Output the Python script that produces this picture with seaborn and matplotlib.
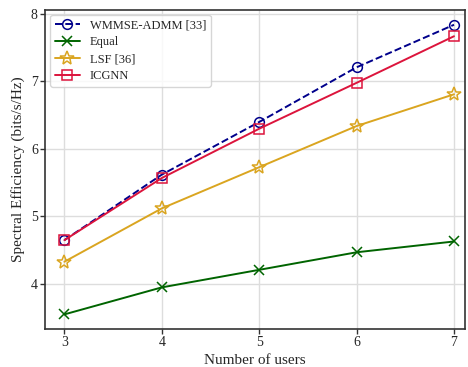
import numpy as np
import pandas as pd
import matplotlib
matplotlib.use("Agg")
import matplotlib.pyplot as plt
import seaborn as sns

# data
USERS = [3, 4, 5, 6, 7]
WMMSE = [4.65, 5.62, 6.40, 7.21, 7.84]
EQUAL = [3.55, 3.95, 4.21, 4.47, 4.63]
LSF = [4.33, 5.12, 5.73, 6.34, 6.81]
ICGNN = [4.65, 5.57, 6.30, 6.98, 7.67]

SERIES = [
    ("WMMSE-ADMM [33]", WMMSE, "#00008b", "o", "--", 7),
    ("Equal", EQUAL, "#006400", "x", "-", 7),
    ("LSF [36]", LSF, "#daa520", "*", "-", 10),
    ("ICGNN", ICGNN, "#dc143c", "s", "-", 7),
]

sns.set_theme(style="whitegrid")
plt.rcParams["font.family"] = ["Liberation Serif", "DejaVu Serif"]

fig, ax = plt.subplots(figsize=(4.68, 3.67), dpi=100)

for name, vals, color, marker, ls, ms in SERIES:
    d = pd.DataFrame({"users": USERS, "se": vals})
    sns.lineplot(data=d, x="users", y="se", color=color, marker=marker,
                 linestyle=ls, markersize=ms, linewidth=1.4,
                 markerfacecolor="none", markeredgecolor=color,
                 markeredgewidth=1.1, label=name, ax=ax)

ax.set_xlim(2.805, 7.11)
ax.set_ylim(3.336, 8.06)
ax.set_xticks(USERS)
ax.set_yticks([4, 5, 6, 7, 8])
ax.set_xlabel("Number of users", fontsize=11, labelpad=3)
ax.set_ylabel("Spectral Efficiency (bits/s/Hz)", fontsize=11, labelpad=4)
ax.tick_params(axis="both", labelsize=10, length=3.5, width=1, pad=2,
               color="#333333", left=True, bottom=True)
ax.grid(True, color="#dddddd", linewidth=1.0)
for sp in ax.spines.values():
    sp.set_color("#333333")
    sp.set_linewidth(1.2)

leg = ax.legend(loc="upper left", fontsize=9, frameon=True,
                handlelength=2.0, borderpad=0.35, labelspacing=0.4,
                borderaxespad=0.4)
leg.get_frame().set_edgecolor("#cccccc")

fig.subplots_adjust(left=0.097, right=0.993, top=0.973, bottom=0.104)
fig.savefig("out.png", dpi=100)
